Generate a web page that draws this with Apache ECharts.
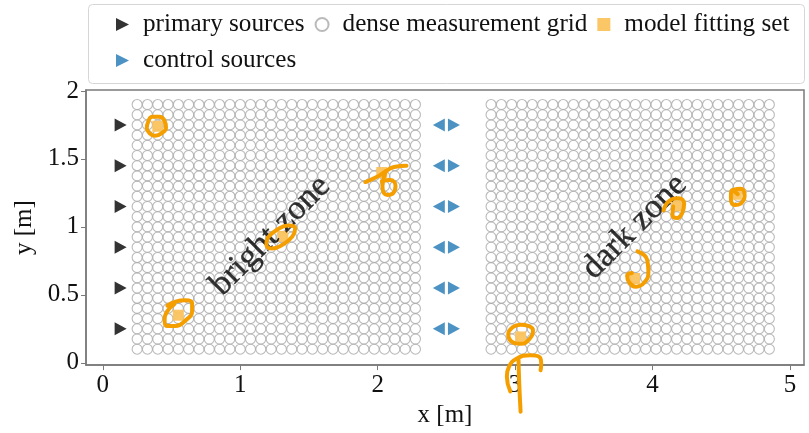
<!DOCTYPE html>
<html>
<head>
<meta charset="utf-8">
<script src="https://cdn.jsdelivr.net/npm/echarts@6/dist/echarts.min.js"></script>
<style>html,body{margin:0;padding:0;background:#fff;}#c{width:809px;height:433px;}</style>
</head>
<body>
<div id="c"></div>
<script>
// ---- data ----
const brightX = [0.25,0.325,0.4,0.475,0.55,0.625,0.7,0.775,0.85,0.925,1.0,1.075,1.15,1.225,1.3,1.375,1.45,1.525,1.6,1.675,1.75,1.825,1.9,1.975,2.05,2.125,2.2,2.275];
const darkX = [2.825,2.9,2.975,3.05,3.125,3.2,3.275,3.35,3.425,3.5,3.575,3.65,3.725,3.8,3.875,3.95,4.025,4.1,4.175,4.25,4.325,4.4,4.475,4.55,4.625,4.7,4.775,4.85];
const gridY = [0.1,0.175,0.25,0.325,0.4,0.475,0.55,0.625,0.7,0.775,0.85,0.925,1.0,1.075,1.15,1.225,1.3,1.375,1.45,1.525,1.6,1.675,1.75,1.825,1.9];
const sourceY = [0.25,0.55,0.85,1.15,1.45,1.75];
const primaryX = 0.13;
const controlLeftX = 2.445;
const controlRightX = 2.555;
const fitX = [0.40,0.55,1.31,2.03,3.04,3.87,4.175,4.61];
const fitY = [1.74,0.35,0.93,1.40,0.19,0.62,1.155,1.24];
const xTicks = [0,1,2,3,4,5];
const yTicks = [0,0.5,1,1.5,2];
const zoneLabels = [{text:'bright zone', x:1.22, y:0.935},{text:'dark zone', x:3.87, y:1.0}];
// hand-drawn orange annotation strokes (data coordinates)
const stroke1 = [[0.33,1.77],[0.36,1.81],[0.41,1.81],[0.45,1.78],[0.46,1.73],[0.43,1.69],[0.38,1.67],[0.34,1.69],[0.32,1.73],[0.33,1.77]];
const stroke2 = [[0.47,0.42],[0.53,0.45],[0.60,0.46],[0.65,0.44],[0.65,0.38],[0.60,0.31],[0.53,0.27],[0.47,0.27],[0.45,0.31],[0.47,0.38],[0.52,0.43]];
const stroke3 = [[1.2,0.92],[1.27,0.98],[1.35,1.01],[1.40,0.99],[1.38,0.93],[1.31,0.87],[1.23,0.84],[1.19,0.87],[1.2,0.92]];
const stroke4a = [[1.91,1.33],[2.0,1.37],[2.06,1.41],[2.12,1.44],[2.21,1.45]];
const stroke4b = [[2.06,1.41],[2.035,1.30],[2.07,1.235],[2.11,1.245],[2.13,1.30],[2.09,1.345],[2.03,1.335]];
const stroke5 = [[2.98,0.26],[3.04,0.28],[3.10,0.27],[3.13,0.24],[3.10,0.17],[3.04,0.14],[2.97,0.16],[2.95,0.21],[2.98,0.26]];
const stroke6a = [[2.965,-0.21],[2.94,-0.10],[2.955,-0.03],[3.01,0.03],[3.11,0.055],[3.18,0.04],[3.19,-0.01],[3.185,-0.055]];
const stroke6b = [[3.025,0.02],[3.03,-0.15],[3.04,-0.36]];
const stroke7 = [[3.89,0.82],[3.96,0.76],[3.97,0.67],[3.94,0.59],[3.88,0.56],[3.83,0.59],[3.815,0.64],[3.85,0.66]];
const stroke8 = [[4.08,1.12],[4.12,1.19],[4.19,1.21],[4.23,1.17],[4.215,1.10],[4.18,1.065],[4.145,1.085],[4.15,1.15]];
const stroke9 = [[4.58,1.27],[4.64,1.28],[4.67,1.23],[4.64,1.17],[4.60,1.16],[4.57,1.21],[4.58,1.27],[4.62,1.24]];
const strokes = [stroke1,stroke2,stroke3,stroke4a,stroke4b,stroke5,stroke6a,stroke6b,stroke7,stroke8,stroke9];

// ---- build ----
const FONT = 'Liberation Serif';
const gridPts = [];
[brightX, darkX].forEach(xs => xs.forEach(x => gridY.forEach(y => gridPts.push([x, y]))));
const fitPts = fitX.map((x, i) => [x, fitY[i]]);
const RIGHT_TRI = 'path://M0,0L10,5L0,10Z';
const LEFT_TRI = 'path://M10,0L0,5L10,10Z';

const series = [
  {name:'dense measurement grid', type:'scatter', symbol:'circle', symbolSize:10,
   itemStyle:{color:'rgba(255,255,255,0)', borderColor:'#a9a9a9', borderWidth:1.1}, data:gridPts, z:2},
  {name:'model fitting set', type:'scatter', symbol:'rect', symbolSize:11,
   itemStyle:{color:'#fbc35e', opacity:0.95}, data:fitPts, z:3},
  {name:'primary sources', type:'scatter', symbol:RIGHT_TRI, symbolSize:[12,13],
   itemStyle:{color:'#000'}, data:sourceY.map(y => [primaryX, y]), z:4},
  {name:'control sources', type:'scatter', symbol:RIGHT_TRI, symbolSize:[12,13],
   itemStyle:{color:'#1f77b4'}, data:sourceY.map(y => [controlRightX, y]), z:4},
  {name:'control sources', type:'scatter', symbol:LEFT_TRI, symbolSize:[12,13],
   itemStyle:{color:'#1f77b4'}, data:sourceY.map(y => [controlLeftX, y]), z:4},
  {name:'zones', type:'scatter', symbolSize:0, silent:true, z:5,
   data: zoneLabels.map(l => ({value:[l.x, l.y], name:l.text})),
   label:{show:true, position:'inside', formatter:p => p.name, rotate:45, fontFamily:FONT,
     fontSize:34, color:'#000', align:'center', verticalAlign:'middle',
     textBorderColor:'#000', textBorderWidth:0.4}}
];
strokes.forEach((s, i) => series.push({
  name:'stroke' + i, type:'line', data:s, smooth:0.5, symbol:'none', clip:false, silent:true, z:6,
  lineStyle:{color:'#f59e00', width:4, cap:'round', join:'round'}
}));

const chart = echarts.init(document.getElementById('c'), null, {renderer:'canvas'});
const legendText = {fontFamily:FONT, fontSize:25.2, color:'#111', padding:[0,0,0,9]};
chart.setOption({
  animation:false,
  backgroundColor:'#fff',
  graphic:[{type:'rect', left:88, top:4, z:0,
    shape:{width:716, height:79, r:4}, style:{fill:'#fff', stroke:'#d6d6d6', lineWidth:1}}],
  legend:[
    {left:116, top:12, padding:0, itemGap:10, itemWidth:13, itemHeight:13, textStyle:legendText,
     data:[{name:'primary sources', icon:RIGHT_TRI}, {name:'dense measurement grid', icon:'circle'}, {name:'model fitting set', icon:'rect'}]},
    {left:116, top:48, padding:0, itemWidth:13, itemHeight:13, textStyle:legendText,
     data:[{name:'control sources', icon:RIGHT_TRI}]}
  ],
  grid:{left:86, right:5, top:90, bottom:65, show:true, borderColor:'#7a7a7a', borderWidth:1.5, backgroundColor:'rgba(0,0,0,0)'},
  xAxis:{type:'value', min:-0.122, max:5.102, name:'x [m]', nameLocation:'middle', nameGap:36,
    nameTextStyle:{fontFamily:FONT, fontSize:25, color:'#111'},
    axisLine:{show:true, onZero:false, lineStyle:{color:'#7a7a7a', width:1.5}},
    axisTick:{show:true, customValues:xTicks, length:5, lineStyle:{color:'#7a7a7a'}},
    axisLabel:{customValues:xTicks, fontFamily:FONT, fontSize:25, color:'#111', margin:8},
    splitLine:{show:false}},
  yAxis:{type:'value', min:-0.017, max:2.007, name:'y [m]', nameLocation:'middle', nameGap:36,
    nameTextStyle:{fontFamily:FONT, fontSize:25, color:'#111'},
    axisLine:{show:true, onZero:false, lineStyle:{color:'#7a7a7a', width:1.5}},
    axisTick:{show:true, customValues:yTicks, length:5, lineStyle:{color:'#7a7a7a'}},
    axisLabel:{customValues:yTicks, fontFamily:FONT, fontSize:25, color:'#111', margin:7},
    splitLine:{show:false}},
  series:series
});
</script>
</body>
</html>
